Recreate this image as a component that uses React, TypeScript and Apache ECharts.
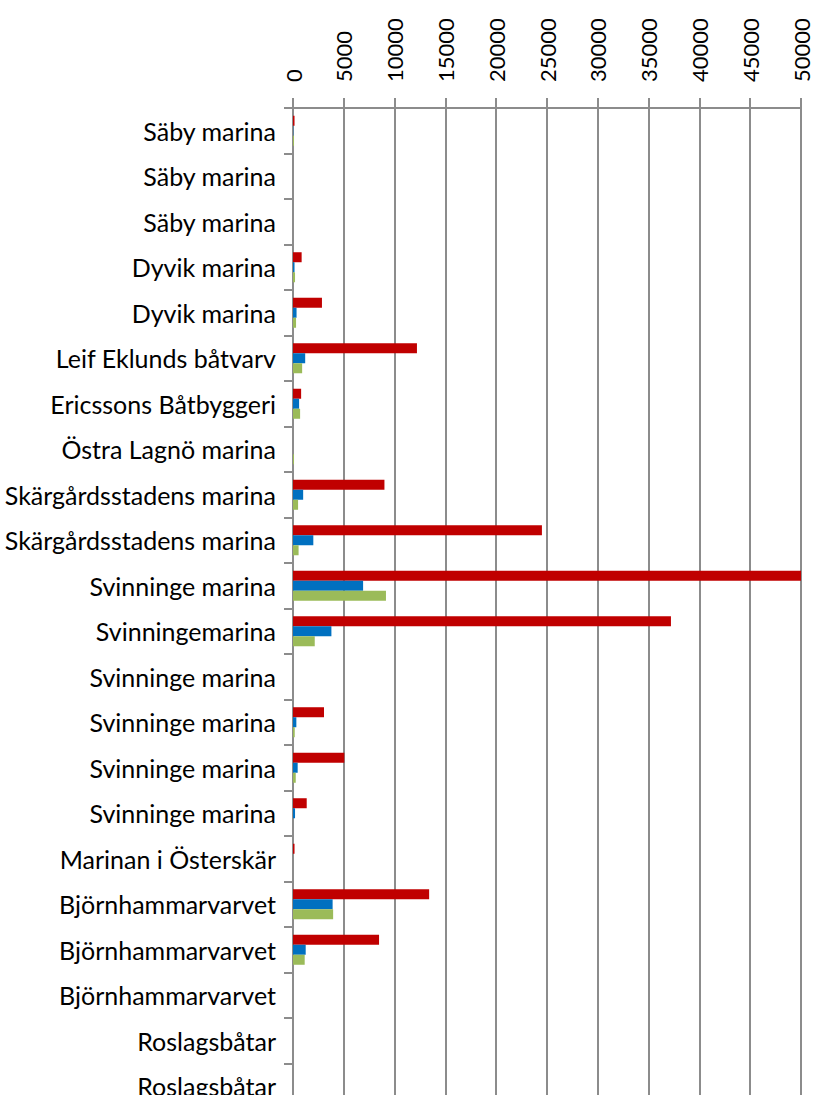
import React, { useEffect, useRef } from "react";
import * as echarts from "echarts";

const categories = [
  "Säby marina",
  "Säby marina",
  "Säby marina",
  "Dyvik marina",
  "Dyvik marina",
  "Leif Eklunds båtvarv",
  "Ericssons Båtbyggeri",
  "Östra Lagnö marina",
  "Skärgårdsstadens marina",
  "Skärgårdsstadens marina",
  "Svinninge marina",
  "Svinningemarina",
  "Svinninge marina",
  "Svinninge marina",
  "Svinninge marina",
  "Svinninge marina",
  "Marinan i Österskär",
  "Björnhammarvarvet",
  "Björnhammarvarvet",
  "Björnhammarvarvet",
  "Roslagsbåtar",
  "Roslagsbåtar",
];

const redValues = [150, 0, 0, 850, 2850, 12200, 800, 0, 9000, 24500, 50000, 37200, 0, 3050, 5050, 1350, 150, 13400, 8470, 0, 0, 0];
const blueValues = [30, 0, 0, 150, 350, 1200, 600, 0, 1000, 2000, 6900, 3780, 0, 330, 460, 200, 0, 3900, 1250, 0, 0, 0];
const greenValues = [100, 0, 0, 200, 300, 900, 700, 100, 500, 550, 9150, 2140, 0, 170, 270, 0, 0, 3950, 1150, 0, 0, 0];

const xTicks = { min: 0, max: 50000, interval: 5000 };

const FONT = "Lato";
const GRAY = "#8c8c8c";

export default function App() {
  const ref = useRef<HTMLDivElement>(null);
  useEffect(() => {
    if (!ref.current) return;
    const chart = echarts.init(ref.current, null, { renderer: "svg" });
    chart.setOption({
      animation: false,
      backgroundColor: "#ffffff",
      grid: { left: 293, right: 20, top: 108, bottom: 11, containLabel: false },
      xAxis: {
        type: "value",
        position: "top",
        min: xTicks.min,
        max: xTicks.max,
        interval: xTicks.interval,
        axisLine: { show: true, lineStyle: { color: GRAY, width: 2 } },
        axisTick: { show: true, length: 10, lineStyle: { color: GRAY, width: 2 } },
        splitLine: { show: true, lineStyle: { color: GRAY, width: 2 } },
        axisLabel: {
          rotate: -90,
          margin: 26,
          color: "#000",
          fontFamily: FONT,
          fontSize: 22,
          formatter: (v: number) => String(v),
        },
      },
      yAxis: {
        type: "category",
        inverse: true,
        data: categories,
        axisLine: { show: true, lineStyle: { color: GRAY, width: 2 } },
        axisTick: { show: true, length: 9, lineStyle: { color: GRAY, width: 2 } },
        axisLabel: {
          margin: 17,
          color: "#000",
          fontFamily: FONT,
          fontSize: 25,
        },
      },
      series: [
        { name: "Serie 1", type: "bar", data: redValues, itemStyle: { color: "#C00000" }, barGap: "0%", barCategoryGap: "34%" },
        { name: "Serie 2", type: "bar", data: blueValues, itemStyle: { color: "#0070C0" } },
        { name: "Serie 3", type: "bar", data: greenValues, itemStyle: { color: "#9BBB59" } },
      ],
    });
    return () => chart.dispose();
  }, []);
  return (
    <div style={{ position: "absolute", left: 0, top: 0, width: 821, height: 1095, overflow: "hidden", background: "#fff" }}>
      <div ref={ref} style={{ width: 821, height: 1120 }} />
    </div>
  );
}
